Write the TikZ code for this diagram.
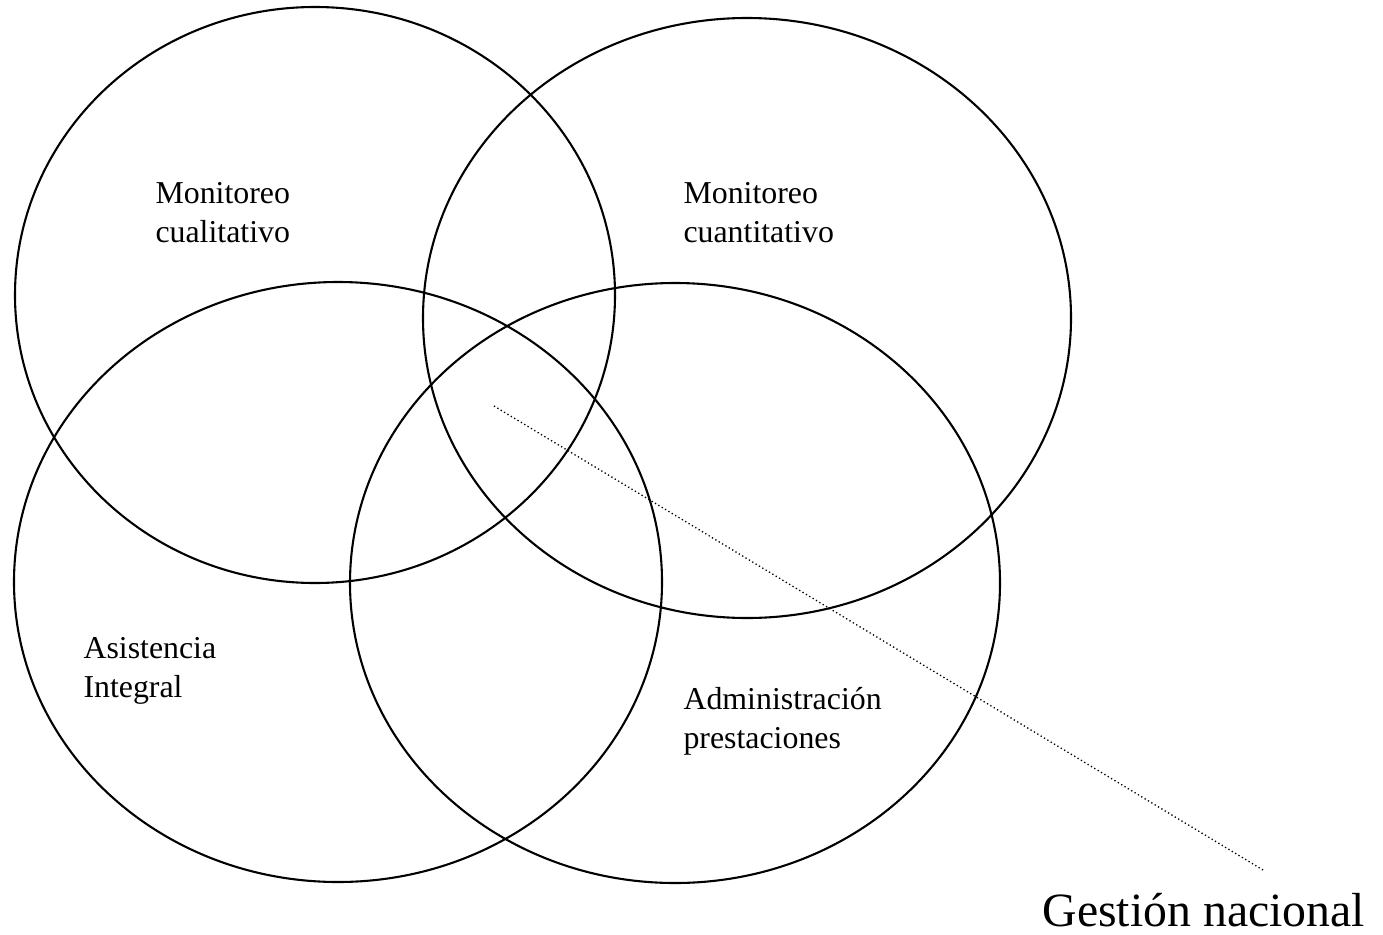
\documentclass[tikz,border=0pt]{standalone}
\usepackage{fontspec}
\setmainfont{Liberation Serif}
\usetikzlibrary{positioning}

\tikzset{
  setring/.style={draw=black, line width=0.8pt},
  setlabel/.style={font=\fontsize{12.2pt}{14.8pt}\selectfont, align=left, anchor=north west, inner sep=0pt},
  pointer/.style={densely dotted, line width=0.5pt}
}

\begin{document}
\begin{tikzpicture}[x=0.383pt, y=-0.383pt]
\useasboundingbox (0,0) rectangle (1383,934);

% Four overlapping sets
\draw[setring] (315,295) ellipse [x radius=300, y radius=288];
\draw[setring] (747,318) ellipse [x radius=324, y radius=300];
\draw[setring] (338,582) ellipse [x radius=324, y radius=300];
\draw[setring] (675,583) ellipse [x radius=325, y radius=300];

% Set labels
\node[setlabel] (cuali) at (155,182) {Monitoreo\\cualitativo};
\node[setlabel] (cuanti) at (683,182) {Monitoreo\\cuantitativo};
\node[setlabel] (asist) at (83,637) {Asistencia\\Integral};
\node[setlabel] (admin) at (683,687) {Administración\\prestaciones};

% Centre pointer
\coordinate (core) at (494,406);
\coordinate (tail) at (1263,870);
\draw[pointer] (core) -- (tail);
\node[font=\fontsize{18.3pt}{21pt}\selectfont, anchor=base west, inner sep=0pt] (gestion) at (1042,926) {Gestión nacional};
\end{tikzpicture}
\end{document}
